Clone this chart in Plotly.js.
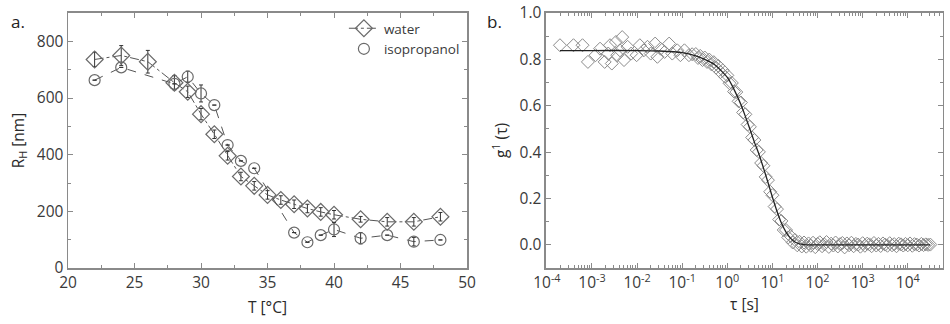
<!DOCTYPE html>
<html><head><meta charset="utf-8">
<script src="https://cdn.plot.ly/plotly-3.0.1.min.js"></script>
<style>html,body{margin:0;padding:0;background:#fff}#chart{width:950px;height:324px}</style>
</head><body><div id="chart"></div>
<script>
// ---- Panel a: hydrodynamic radius vs temperature ----
const waterT   = [22, 24, 26, 28, 29, 30, 31, 32, 33, 34, 35, 36, 37, 38, 39, 40, 42, 44, 46, 48];
const waterR   = [736, 750, 728, 654, 622, 543, 472, 396, 323, 290, 258, 240, 225, 210, 198, 188, 172, 163, 163, 181];
const waterErr = [25, 35, 40, 25, 20, 20, 15, 15, 15, 15, 15, 15, 15, 15, 15, 15, 10, 15, 15, 15];
const isoT     = [22, 24, 28, 29, 30, 31, 32, 33, 34, 37, 38, 39, 40, 42, 44, 46, 48];
const isoR     = [663, 708, 650, 675, 616, 575, 434, 378, 352, 125, 91, 116, 136, 105, 116, 93, 99];
const isoErr   = [0, 0, 0, 20, 30, 0, 0, 0, 0, 0, 0, 0, 25, 20, 0, 15, 0];

// ---- Panel b: correlation function ----
const tauData = [
  1.95e-4, 3.89e-4, 6.17e-4, 8.13e-4, 1.20e-3, 1.51e-3, 1.91e-3, 2.29e-3, 2.51e-3, 2.75e-3,
  3.39e-3, 3.63e-3, 4.17e-3, 4.68e-3, 5.13e-3, 6.17e-3, 7.41e-3, 9.77e-3, 1.15e-2, 1.41e-2,
  1.70e-2, 2.00e-2, 2.51e-2, 2.82e-2, 3.31e-2, 4.07e-2, 5.13e-2, 6.03e-2, 7.76e-2, 9.12e-2,
  0.112, 0.141, 0.166,
  0.200, 0.224, 0.251, 0.282, 0.316, 0.355, 0.398, 0.447, 0.501, 0.562, 0.631, 0.708, 0.794, 0.891,
  1.00, 1.12, 1.26, 1.41, 1.58, 1.78, 2.00, 2.24, 2.51, 2.82, 3.16, 3.55, 3.98, 4.47, 5.01, 5.62,
  6.31, 7.08, 7.94, 8.91, 10.0, 11.2, 12.6, 14.1, 15.8, 17.8, 20.0, 22.4, 25.1, 28.2, 31.6, 35.5,
  39.8, 44.7, 50.1,
  56.2, 63.1, 70.8, 79.4, 89.1, 100, 112, 126, 141, 158, 178, 200, 224, 251, 282, 316, 355, 398,
  447, 501, 562, 631, 708, 794, 891, 1000, 1120, 1260, 1410, 1580, 1780, 2000, 2240, 2510, 2820,
  3160, 3550, 3980, 4470, 5010, 5620, 6310, 7080, 7940, 8910, 10000, 11200, 12600, 14100, 15800,
  17800, 20000, 22400, 25100, 28200, 31600];
const gData = [
  0.861, 0.861, 0.861, 0.789, 0.818, 0.846, 0.789, 0.825, 0.861, 0.782,
  0.875, 0.818, 0.839, 0.896, 0.797, 0.854, 0.825, 0.818, 0.861, 0.839,
  0.854, 0.825, 0.868, 0.811, 0.846, 0.832, 0.868, 0.825, 0.839, 0.818,
  0.839, 0.818, 0.822,
  0.823, 0.806, 0.815, 0.797, 0.808, 0.789, 0.799, 0.778, 0.788, 0.764, 0.772, 0.745, 0.753, 0.725,
  0.731, 0.697, 0.698, 0.661, 0.659, 0.619, 0.614, 0.571, 0.563, 0.519, 0.509, 0.463, 0.452, 0.409, 0.401, 0.353,
  0.341, 0.293, 0.279, 0.229, 0.214, 0.165, 0.154, 0.109, 0.103, 0.064, 0.064, 0.032, 0.038, 0.010, 0.021, -0.002,
  0.013, -0.007, 0.010,
  -0.008, 0.006, -0.004, 0.009, -0.010, 0.004, 0.011, -0.006, 0.002, 0.012, -0.009, 0.005, -0.003, 0.010, -0.007, 0.003, 0.008,
  -0.011, 0.006, -0.002, 0.009, -0.006, 0.004, 0.001, -0.008, 0.007, -0.004, 0.005, 0.002, -0.006, 0.008, -0.003, 0.004,
  -0.005, 0.006, 0.001, -0.004, 0.007, -0.002, 0.003, -0.006, 0.005, 0.002, -0.003, 0.004, -0.002, 0.006, -0.004, 0.003,
  0.001, -0.003, 0.004, -0.001, 0.002, 0.000, 0.001];
const tauFit = [1.95e-4, 1e-3, 1e-2, 3.16e-2, 0.1, 0.2, 0.316, 0.501, 0.794, 1.0, 1.26, 1.58, 2.0, 2.51, 3.16, 3.98,
  5.01, 6.31, 7.94, 10, 12.6, 15.8, 20, 25.1, 31.6, 39.8, 50.1, 63.1, 31600];
const gFit = [0.838, 0.838, 0.838, 0.836, 0.829, 0.815, 0.800, 0.780, 0.744, 0.722, 0.689, 0.650, 0.605, 0.554, 0.500, 0.443,
  0.392, 0.332, 0.270, 0.205, 0.145, 0.094, 0.055, 0.029, 0.012, 0.004, 0.001, 0.000, 0.000];

const xTickVals = [1e-4, 1e-3, 1e-2, 1e-1, 1e0, 1e1, 1e2, 1e3, 1e4];
const xTickText = ['10<sup>-4</sup>', '10<sup>-3</sup>', '10<sup>-2</sup>', '10<sup>-1</sup>', '10<sup>0</sup>',
  '10<sup>1</sup>', '10<sup>2</sup>', '10<sup>3</sup>', '10<sup>4</sup>'];

const gray = '#555';
const axisCol = '#8a8a8a';
const font = {family: 'Open Sans, Noto Sans, sans-serif', size: 15.5, color: '#3a3a3a'};
const titleFont = {family: 'Open Sans, Noto Sans, sans-serif', size: 15.5, color: '#2a2a2a'};

const traces = [
  {x: waterT, y: waterR, type: 'scatter', mode: 'lines+markers', name: 'water',
   xaxis: 'x', yaxis: 'y',
   line: {color: gray, width: 1, dash: 'dashdot'},
   marker: {symbol: 'diamond-open', size: 13, color: '#6a6a6a', line: {width: 1.2}},
   error_y: {type: 'data', array: waterErr, visible: true, color: '#333', thickness: 1, width: 2}},
  {x: isoT, y: isoR, type: 'scatter', mode: 'lines', showlegend: false,
   xaxis: 'x', yaxis: 'y',
   line: {color: gray, width: 1, dash: 'dash'}},
  {x: isoT, y: isoR, type: 'scatter', mode: 'markers', name: 'isopropanol',
   xaxis: 'x', yaxis: 'y',
   marker: {symbol: 'circle-open', size: 11, color: '#6a6a6a', line: {width: 1.2}},
   error_y: {type: 'data', array: isoErr, visible: true, color: '#333', thickness: 1, width: 2}},
  {x: tauData, y: gData, type: 'scatter', mode: 'markers', showlegend: false,
   xaxis: 'x2', yaxis: 'y2',
   marker: {symbol: 'diamond-open', size: 10, color: '#8a8a8a', line: {width: 1}}},
  {x: tauFit, y: gFit, type: 'scatter', mode: 'lines', showlegend: false,
   xaxis: 'x2', yaxis: 'y2', line: {color: '#222', width: 1.3, shape: 'spline', smoothing: 0.6}}
];

const baseAxis = {showline: true, linecolor: axisCol, linewidth: 1.5, mirror: 'ticks', ticks: 'inside',
  ticklen: 5, tickcolor: axisCol, showgrid: false, zeroline: false, tickfont: font};

const layout = {
  width: 950, height: 324, margin: {l: 0, r: 0, t: 0, b: 0},
  paper_bgcolor: '#fff', plot_bgcolor: '#fff', font: font,
  showlegend: true,
  legend: {x: 0.362, y: 0.96, xanchor: 'left', yanchor: 'top', bgcolor: 'rgba(0,0,0,0)',
           font: {family: 'Open Sans, sans-serif', size: 13.5, color: '#3a3a3a'}, tracegroupgap: 0, itemwidth: 30},
  xaxis: Object.assign({}, baseAxis, {domain: [0.0716, 0.4916], anchor: 'y', range: [20, 50], dtick: 5, tick0: 20,
    minor: {ticks: 'inside', ticklen: 3, dtick: 2.5, tickcolor: axisCol},
    title: {text: 'T [°C]', font: titleFont, standoff: 10}}),
  yaxis: Object.assign({}, baseAxis, {domain: [0.1728, 0.9599], anchor: 'x', range: [0, 900], dtick: 200, tick0: 0,
    minor: {ticks: 'inside', ticklen: 3, dtick: 100, tickcolor: axisCol},
    title: {text: 'R<sub>H</sub> [nm]', font: titleFont, standoff: 8}}),
  xaxis2: Object.assign({}, baseAxis, {domain: [0.5747, 0.9926], anchor: 'y2', type: 'log', range: [-4.02, 4.78],
    tickvals: xTickVals, ticktext: xTickText,
    minor: {ticks: 'inside', ticklen: 3, tickcolor: axisCol, dtick: 'D1'},
    title: {text: 'τ [s]', font: titleFont, standoff: 6}}),
  yaxis2: Object.assign({}, baseAxis, {domain: [0.1728, 0.9599], anchor: 'x2', range: [-0.1, 1.0], dtick: 0.2, tick0: 0,
    tickformat: '.1f',
    minor: {ticks: 'inside', ticklen: 3, dtick: 0.1, tickcolor: axisCol},
    title: {text: 'g<sup>1</sup> (τ)', font: titleFont, standoff: 8}}),
  annotations: [
    {text: 'a.', x: 18, y: 22},
    {text: 'b.', x: 495, y: 22}
  ].map(a => ({text: a.text, xref: 'paper', yref: 'paper', x: a.x / 950, y: 1 - a.y / 324,
    xanchor: 'center', yanchor: 'middle', showarrow: false,
    font: {family: 'Open Sans, sans-serif', size: 17, color: '#222'}}))
};

Plotly.newPlot('chart', traces, layout, {staticPlot: true, displayModeBar: false});
</script></body></html>
